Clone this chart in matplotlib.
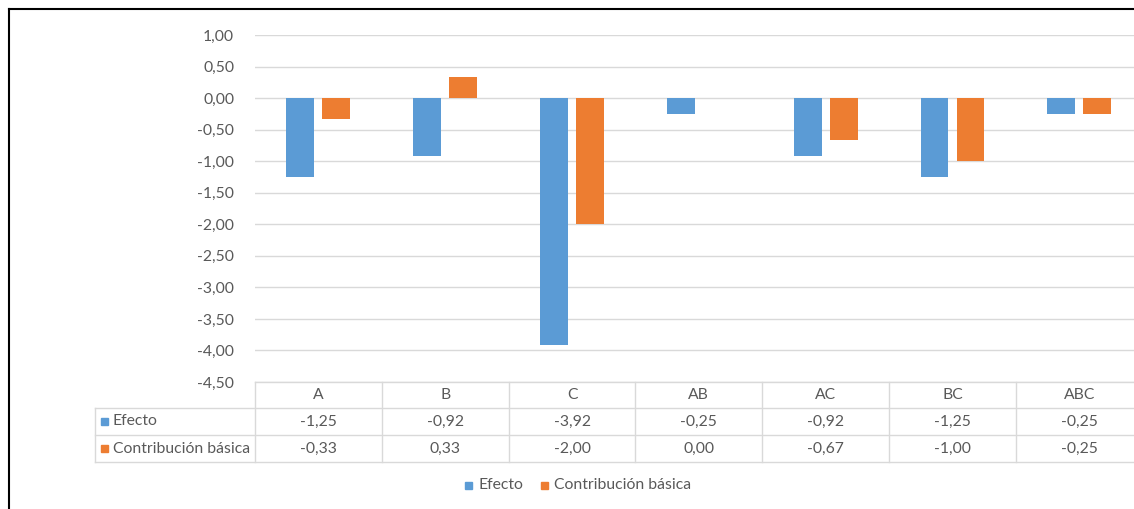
import matplotlib
matplotlib.use("Agg")
import matplotlib.pyplot as plt
import matplotlib.transforms as mtransforms
from matplotlib.lines import Line2D
from matplotlib.patches import Rectangle
import numpy as np

categories = ["A", "B", "C", "AB", "AC", "BC", "ABC"]
efecto = [-1.25, -0.92, -3.92, -0.25, -0.92, -1.25, -0.25]
contribucion = [-0.33, 0.33, -2.00, 0.00, -0.67, -1.00, -0.25]
series_names = ["Efecto", "Contribución básica"]
y_ticks = [1.0, 0.5, 0.0, -0.5, -1.0, -1.5, -2.0, -2.5, -3.0, -3.5, -4.0, -4.5]

BLUE = "#5B9BD5"
ORANGE = "#ED7D31"
GRID = "#D9D9D9"
TEXT = "#595959"
FS = 11.3

W, H = 1134, 509
plt.rcParams["font.family"] = ["Lato", "DejaVu Sans"]


def fx(x):
    return x / W


def fy(y):
    return 1 - y / H


def fmt(v):
    return f"{v:.2f}".replace(".", ",")


fig = plt.figure(figsize=(W / 100, H / 100), dpi=100)
fig.patch.set_facecolor("white")

# plot area (right side runs a little past the figure edge)
left, right, top, bottom = 255, 1142.7, 35, 382
ax = fig.add_axes([fx(left), fy(bottom), fx(right - left), fy(top) - fy(bottom)])
ax.set_xlim(-0.5, len(categories) - 0.5)
ax.set_ylim(-4.5, 1.0)

x = np.arange(len(categories))
bw = 0.22
off = 0.142
ax.bar(x - off, efecto, bw, color=BLUE, linewidth=0, zorder=3)
ax.bar(x + off, contribucion, bw, color=ORANGE, linewidth=0, zorder=3)

ax.set_yticks(y_ticks)
ax.set_yticklabels([fmt(v) for v in y_ticks], color=TEXT, fontsize=FS)
ax.tick_params(axis="y", length=0, pad=15)
ax.set_xticks([])
for s in ax.spines.values():
    s.set_visible(False)
ax.yaxis.grid(True, color=GRID, linewidth=1)
ax.set_axisbelow(True)

# data table under the plot
trans = mtransforms.blended_transform_factory(ax.transData, fig.transFigure)
rows_y = [382, 407.5, 435.3, 462]
n = len(categories)
# horizontal lines
fig.add_artist(Line2D([-0.5, n - 0.5], [fy(rows_y[0])] * 2, transform=trans, color=GRID, lw=1))
for ry in rows_y[1:]:
    fig.add_artist(Line2D([fx(94.5), fx(right)], [fy(ry)] * 2, color=GRID, lw=1))
# vertical lines
for i in range(n + 1):
    fig.add_artist(Line2D([i - 0.5] * 2, [fy(rows_y[0]), fy(rows_y[3])], transform=trans, color=GRID, lw=1))
fig.add_artist(Line2D([fx(94.5)] * 2, [fy(rows_y[1]), fy(rows_y[3])], color=GRID, lw=1))

for i, cat in enumerate(categories):
    cy = (rows_y[0] + rows_y[1]) / 2
    fig.text(i, fy(cy), cat, transform=trans, ha="center", va="center", color=TEXT, fontsize=FS)
for r, (vals, col) in enumerate([(efecto, BLUE), (contribucion, ORANGE)]):
    cy = (rows_y[r + 1] + rows_y[r + 2]) / 2
    for i, v in enumerate(vals):
        fig.text(i, fy(cy), fmt(v), transform=trans, ha="center", va="center", color=TEXT, fontsize=FS)
    fig.add_artist(Rectangle((fx(101), fy(cy + 3.5)), fx(7), fy(0) - fy(7), color=col))
    fig.text(fx(113), fy(cy), series_names[r], ha="left", va="center", color=TEXT, fontsize=FS)

# legend
leg_y = 485
for sx, tx, col, name in [(465, 478, BLUE, series_names[0]), (541, 554, ORANGE, series_names[1])]:
    fig.add_artist(Rectangle((fx(sx), fy(leg_y + 3.5)), fx(7), fy(0) - fy(7), color=col))
    fig.text(fx(tx), fy(leg_y), name, ha="left", va="center", color=TEXT, fontsize=FS)

# chart frame
fig.add_artist(Line2D([fx(8.5), fx(8.5)], [fy(8.5), 0], color="black", lw=1.5))
fig.add_artist(Line2D([fx(8.5), 1], [fy(8.5), fy(8.5)], color="black", lw=1.5))

fig.savefig("out.png", dpi=100)
